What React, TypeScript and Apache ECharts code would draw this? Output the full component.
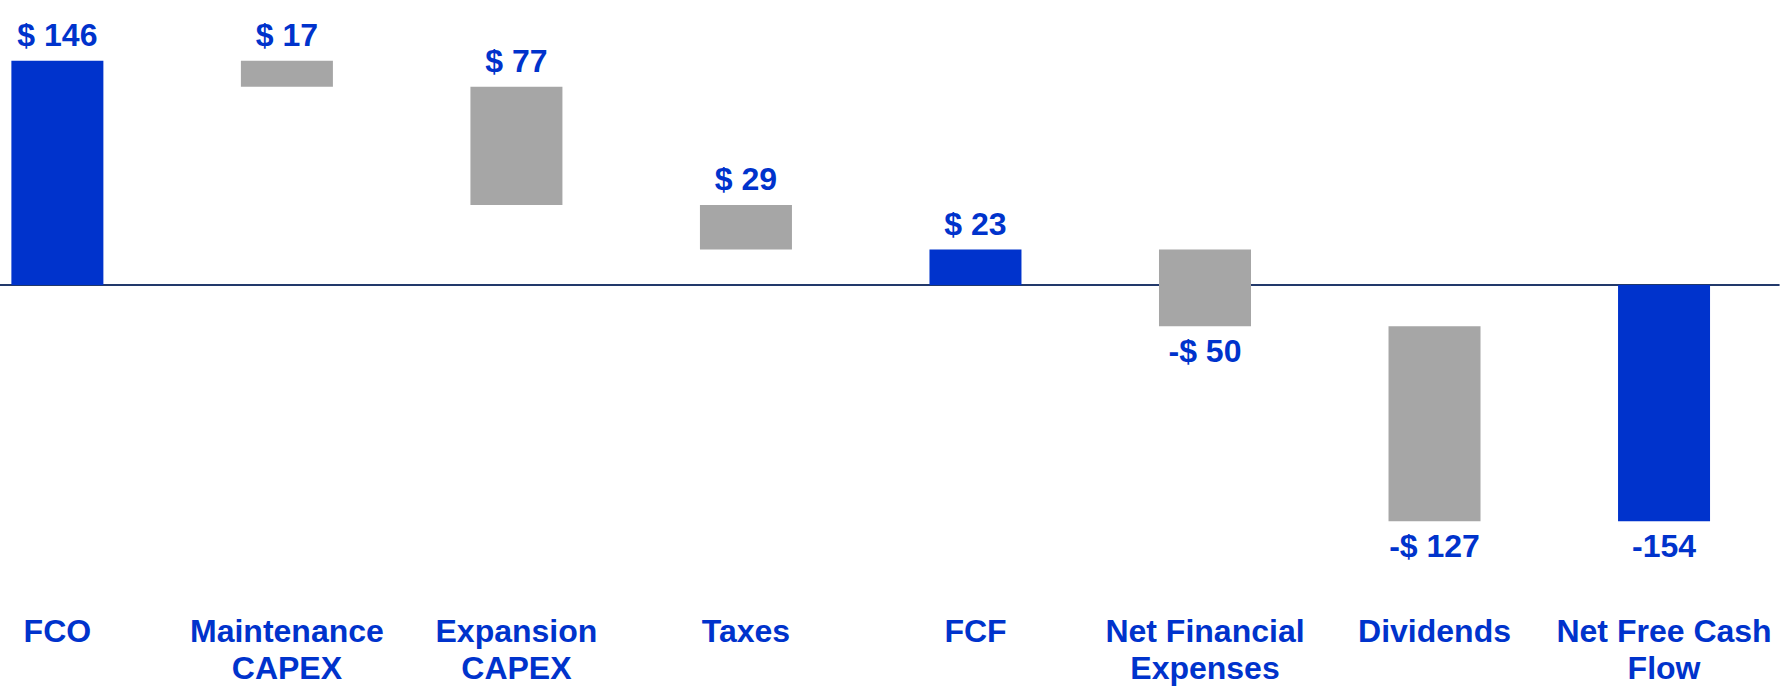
import React, { useEffect, useRef } from "react";
import * as echarts from "echarts";

const categories = [
  "FCO",
  "Maintenance\nCAPEX",
  "Expansion\nCAPEX",
  "Taxes",
  "FCF",
  "Net Financial\nExpenses",
  "Dividends",
  "Net Free Cash\nFlow",
];
// change for each step (totals are absolute)
const deltas = [146, -17, -77, -29, 23, -50, -127, -154];
const isTotal = [true, false, false, false, true, false, false, true];
const valueLabels = ["$ 146", "$ 17", "$ 77", "$ 29", "$ 23", "-$ 50", "-$ 127", "-154"];

const BLUE = "#0033CC";
const GRAY = "#A6A6A6";
const FONT = '"Liberation Sans", Arial, Helvetica, sans-serif';

export default function App() {
  const ref = useRef<HTMLDivElement>(null);

  useEffect(() => {
    document.body.style.margin = "0";
    if (!ref.current) return;
    const chart = echarts.init(ref.current, undefined, { renderer: "svg" });

    let running = 0;
    const data = deltas.map((d, i) => {
      let start: number, end: number;
      if (isTotal[i]) {
        start = 0;
        end = d;
        running = d;
      } else {
        start = running;
        end = running + d;
        running = end;
      }
      return [i, start, end];
    });

    const catIdx = categories.map((_, i) => i);
    const xMin = -0.25;
    const xMax = 7.5;

    chart.setOption({
      animation: false,
      grid: { left: 0, right: 8.2, top: 39.2, bottom: 93.8, containLabel: false },
      xAxis: [
        {
          type: "value",
          min: xMin,
          max: xMax,
          position: "bottom",
          axisLine: { show: true, onZero: true, lineStyle: { color: "#22396B", width: 2 } },
          axisTick: { show: false },
          axisLabel: { show: false },
          splitLine: { show: false },
        },
        {
          type: "value",
          min: xMin,
          max: xMax,
          position: "bottom",
          axisLine: { show: false, onZero: false },
          axisTick: { show: false },
          splitLine: { show: false },
          axisLabel: {
            show: true,
            customValues: catIdx,
            formatter: (v: number) => categories[Math.round(v)] ?? "",
            margin: 20,
            color: BLUE,
            fontFamily: FONT,
            fontWeight: "bold",
            fontSize: 32,
            lineHeight: 37,
            showMinLabel: true,
            showMaxLabel: true,
          },
        },
      ],
      yAxis: {
        type: "value",
        min: -200,
        max: 160,
        show: false,
        splitLine: { show: false },
      },
      series: [
        {
          type: "custom",
          xAxisIndex: 0,
          encode: { x: 0, y: [1, 2] },
          data,
          clip: false,
          renderItem: (params: any, api: any) => {
            const i = api.value(0);
            const s = api.value(1);
            const e = api.value(2);
            const p1 = api.coord([i, s]);
            const p2 = api.coord([i, e]);
            const w = 92;
            const top = Math.min(p1[1], p2[1]);
            const bottom = Math.max(p1[1], p2[1]);
            const label = valueLabels[i];
            const below = label.startsWith("-");
            return {
              type: "group",
              children: [
                {
                  type: "rect",
                  shape: { x: p1[0] - w / 2, y: top, width: w, height: bottom - top },
                  style: { fill: isTotal[i] ? BLUE : GRAY },
                },
                {
                  type: "text",
                  x: p1[0],
                  y: below ? bottom + 25 : top - 26,
                  style: {
                    text: label,
                    fill: BLUE,
                    fontFamily: FONT,
                    fontWeight: "bold",
                    fontSize: 32,
                    align: "center",
                    verticalAlign: "middle",
                  },
                },
              ],
            };
          },
        },
      ],
    });

    return () => chart.dispose();
  }, []);

  return <div ref={ref} style={{ width: 1787, height: 686 }} />;
}
